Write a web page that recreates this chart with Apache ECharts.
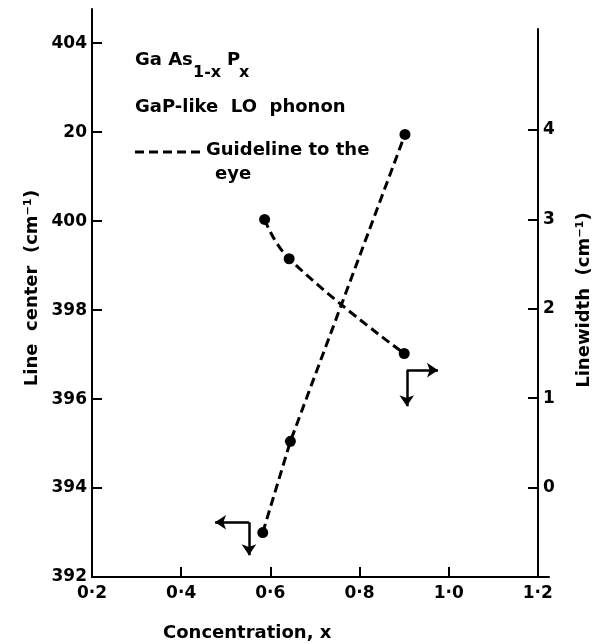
<!DOCTYPE html>
<html><head><meta charset="utf-8">
<script src="https://cdn.jsdelivr.net/npm/echarts@6/dist/echarts.min.js"></script>
<style>html,body{margin:0;padding:0;background:#fff}#c{width:601px;height:644px}</style>
</head><body><div id="c"></div>
<script>
// ---- data ----
const centerConc = [0.583, 0.645, 0.902];
const lineCenter = [393.0, 395.05, 401.95];
const widthConc = [0.587, 0.642, 0.900];
const linewidth = [3.0, 2.56, 1.50];
const xTicks = [0.2, 0.4, 0.6, 0.8, 1.0, 1.2];
const xTickLabels = ['0·2', '0·4', '0·6', '0·8', '1·0', '1·2'];
const leftTicks = [392, 394, 396, 398, 400, 402, 404];
const leftTickLabels = ['392', '394', '396', '398', '400', '20', '404'];
const rightTicks = [0, 1, 2, 3, 4];
const rightTickLabels = ['0', '1', '2', '3', '4'];
const leftArrowCorner = [0.552, 393.23];
const leftArrowEnds = [[0.476, 393.23], [0.552, 392.49]];
const rightArrowCorner = [0.906, 396.65];
const rightArrowEnds = [[0.976, 396.65], [0.906, 395.84]];

const FF = '"DejaVu Sans"';
const lookup = (vals, labels) => v => {
  const i = vals.findIndex(t => Math.abs(t - v) < 1e-6);
  return i >= 0 ? labels[i] : '';
};
const axisLineStyle = {color: '#000', width: 2};
const labelStyle = {color: '#000', fontSize: 17, fontWeight: 'bold', fontFamily: FF};

const chart = echarts.init(document.getElementById('c'), null, {renderer: 'canvas'});
const txt = (text, x, y, size, extra) => Object.assign({
  type: 'text', x: x, y: y,
  style: {text: text, font: 'bold ' + size + 'px ' + FF, fill: '#000',
          textAlign: 'left', textVerticalAlign: 'middle', align: 'left', verticalAlign: 'middle'}
}, extra || {});

chart.setOption({
  animation: false,
  backgroundColor: '#fff',
  grid: [
    {left: 92, right: 52, top: 9, bottom: 67},
    {left: 92, right: 63, top: 29, bottom: 67}
  ],
  xAxis: [
    {gridIndex: 0, type: 'value', min: 0.2, max: 1.225,
     axisLine: {show: true, onZero: false, lineStyle: axisLineStyle},
     axisTick: {show: true, inside: true, length: 10, customValues: xTicks, lineStyle: axisLineStyle},
     axisLabel: Object.assign({customValues: xTicks, margin: 8, formatter: lookup(xTicks, xTickLabels)}, labelStyle),
     splitLine: {show: false}},
    {gridIndex: 1, type: 'value', min: 0.2, max: 1.2, show: false, splitLine: {show: false}}
  ],
  yAxis: [
    {gridIndex: 0, type: 'value', position: 'left', min: 392, max: 404.77,
     axisLine: {show: true, onZero: false, lineStyle: axisLineStyle},
     axisTick: {show: true, inside: true, length: 10, customValues: leftTicks, lineStyle: axisLineStyle},
     axisLabel: Object.assign({customValues: leftTicks, margin: 5, formatter: lookup(leftTicks, leftTickLabels)}, labelStyle),
     splitLine: {show: false}},
    {gridIndex: 1, type: 'value', position: 'right', min: -1, max: 5.13,
     axisLine: {show: true, onZero: false, lineStyle: axisLineStyle},
     axisTick: {show: true, inside: true, length: 10, customValues: rightTicks, lineStyle: axisLineStyle},
     axisLabel: Object.assign({customValues: rightTicks, margin: 5, formatter: lookup(rightTicks, rightTickLabels)}, labelStyle),
     splitLine: {show: false}}
  ],
  series: [
    {type: 'line', xAxisIndex: 0, yAxisIndex: 0,
     data: centerConc.map((x, i) => [x, lineCenter[i]]),
     symbol: 'circle', symbolSize: 11, itemStyle: {color: '#000'},
     lineStyle: {color: '#000', width: 3, type: [9, 5]}},
    {type: 'line', xAxisIndex: 1, yAxisIndex: 1, smooth: 0.45,
     data: widthConc.map((x, i) => [x, linewidth[i]]),
     symbol: 'circle', symbolSize: 11, itemStyle: {color: '#000'},
     lineStyle: {color: '#000', width: 3, type: [9, 5]}},
    {type: 'lines', coordinateSystem: 'cartesian2d', xAxisIndex: 0, yAxisIndex: 0,
     symbol: ['none', 'arrow'], symbolSize: 11,
     lineStyle: {color: '#000', width: 2.5, type: 'solid', opacity: 1},
     data: leftArrowEnds.map(e => ({coords: [leftArrowCorner, e]}))
        .concat(rightArrowEnds.map(e => ({coords: [rightArrowCorner, e]})))}
  ],
  graphic: [
    txt('Ga As', 135, 60, 18),
    txt('1-x', 193, 73, 16),
    txt('P', 227, 60, 18),
    txt('x', 239, 73, 16),
    txt('GaP-like  LO  phonon', 135, 107, 18),
    {type: 'line', shape: {x1: 135, y1: 152, x2: 203, y2: 152},
     style: {stroke: '#000', lineWidth: 3, lineDash: [9, 5]}},
    txt('Guideline to the', 206, 150, 18),
    txt('eye', 215, 174, 18),
    txt('Line  center  (cm⁻¹)', 32, 288, 18,
        {rotation: Math.PI / 2}),
    txt('Linewidth  (cm⁻¹)', 584, 300, 18,
        {rotation: Math.PI / 2}),
    txt('Concentration, x', 163, 633, 18)
  ].map(g => {
    if (g.rotation) { g.style.textAlign = 'center'; g.style.align = 'center'; }
    return g;
  })
});
</script></body></html>
